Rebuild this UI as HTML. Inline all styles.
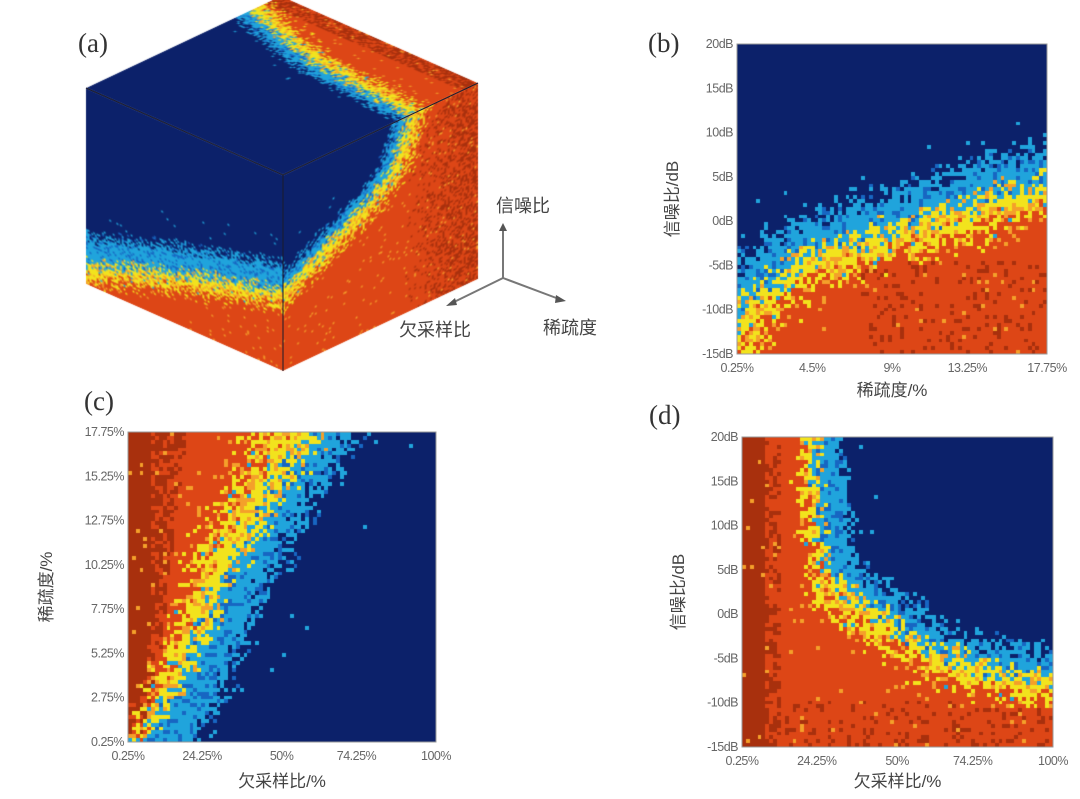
<!DOCTYPE html>
<html><head><meta charset="utf-8">
<style>
html,body{margin:0;padding:0;background:#fff;}
#wrap{position:relative;width:1080px;height:799px;overflow:hidden;}
canvas,svg{position:absolute;left:0;top:0;}
</style></head>
<body>
<div id="wrap">
<canvas id="cv" width="1080" height="799"></canvas>
<svg id="sv" width="1080" height="799" font-family="'Liberation Sans','Noto Sans CJK SC',sans-serif"></svg>
</div>
<script>
// ---- data ----
// (b) transition SNR (dB) vs sparsity (%)
const bSparsity = [0.25, 1.5, 3, 4.5, 6.75, 9, 11, 13.25, 15.5, 17.75];
const bThresholdDb = [-14, -9.5, -7, -5, -3.5, -2, -1, 0.5, 2, 3];
// (c) transition sparsity (%) vs undersampling (%)
const cUndersampling = [1, 4, 11, 18, 24, 30, 38, 46, 54, 64];
const cThresholdSparsity = [-1, 0.25, 2.75, 5.25, 7.75, 10.25, 12.75, 15.25, 17.75, 21];
// (d) transition SNR (dB) vs undersampling (%)
const dUndersampling = [20.5, 21.5, 23.5, 26, 32, 40, 50, 60, 75, 96, 105];
const dThresholdDb = [30, 20, 10, 5, 2, 0, -2.5, -5, -7, -8, -8.5];
// tick labels
const snrTicks = [20, 15, 10, 5, 0, -5, -10, -15];
const sparsityTicks = [0.25, 4.5, 9, 13.25, 17.75];
const sparsityTicksC = [0.25, 2.75, 5.25, 7.75, 10.25, 12.75, 15.25, 17.75];
const undersamplingTicks = [0.25, 24.25, 50, 74.25, 100];
// (a) cube face boundaries (normalised face coordinates)
const topFaceV = [0, 0.55, 0.94], topFaceU = [0.68, 0.73, 0.85];
const leftFaceT = [0, 0.5, 1], leftFaceS = [0.62, 0.76, 0.93];
const rightFaceU = [0, 0.47, 0.59, 0.68, 0.75], rightFaceS = [0.62, 0.35, 0.24, 0.0, -0.1];

const C = {db:[12,33,106], mb:[23,102,194], lb:[32,164,220], ye:[242,227,29], or:[244,160,42], re:[221,70,22], dr:[168,48,13]};
function hash(i,j,s){let h=(Math.imul(i+1,374761393)+Math.imul(j+7,668265263)+Math.imul(s+3,1442695041))|0;
  h=Math.imul(h^(h>>>13),1274126177);h^=h>>>16;h=Math.imul(h,0x85ebca6b);h^=h>>>13;return (h>>>0)/4294967296;}
function interp(xs,ys,x){
  const n=xs.length;
  if(x<=xs[0]){const k=(ys[1]-ys[0])/(xs[1]-xs[0]);return ys[0]+k*(x-xs[0]);}
  if(x>=xs[n-1]){const k=(ys[n-1]-ys[n-2])/(xs[n-1]-xs[n-2]);return ys[n-1]+k*(x-xs[n-1]);}
  for(let i=0;i<n-1;i++){if(x<=xs[i+1]){const t=(x-xs[i])/(xs[i+1]-xs[i]);return ys[i]+t*(ys[i+1]-ys[i]);}}
}
function prep(cfg){
  const pts=[];
  const x0=cfg.bx[0]-0.4,x1=cfg.bx[cfg.bx.length-1]+0.4;
  for(let k=0;k<=600;k++){const x=x0+(x1-x0)*k/600;pts.push([x,interp(cfg.bx,cfg.by,x)]);}
  const out=[pts[0]];
  for(let k=1;k<pts.length;k++){const a=pts[k-1],b=pts[k];const L=Math.hypot(b[0]-a[0],b[1]-a[1]);const m=Math.ceil(L/0.004);
    for(let q=1;q<=m;q++)out.push([a[0]+(b[0]-a[0])*q/m,a[1]+(b[1]-a[1])*q/m]);}
  cfg.pts=out;return cfg;
}
function colorAt(cfg,xn,yn,i,j){
  let m=1e9;for(const p of cfg.pts){const dx=p[0]-xn,dy=p[1]-yn;const d2=dx*dx+dy*dy;if(d2<m)m=d2;}
  let d=Math.sqrt(m);if(yn<interp(cfg.bx,cfg.by,xn))d=-d;
  if(cfg.redAbove) d=-d;
  const sc=cfg.scale?cfg.scale(xn,yn):1;
  const yh=cfg.yh*sc, jit=cfg.jit*(0.5+0.5*sc);
  const h=hash(i,j,cfg.seed), h2=hash(j,i,cfg.seed+11);
  const e=d+(h-0.5)*2*jit;
  if(e>cfg.bw){ if(h2<0.008&&e<cfg.bw*2) return C.lb; return C.db; }
  if(e>yh) return h2<0.22?C.mb:C.lb;
  if(e>-yh) return h2<0.25?C.or:(h2<0.32?C.lb:C.ye);
  if(e>-yh*2) return h2<0.3?C.ye:(h2<0.45?C.or:C.re);
  if(h2<0.025) return C.or;
  if(cfg.dark&&cfg.dark(xn,yn,h2)) return C.dr;
  return C.re;
}
function texture(cfg,n){
  prep(cfg);
  const oc=document.createElement('canvas');oc.width=n;oc.height=n;
  const octx=oc.getContext('2d');const img=octx.createImageData(n,n);
  for(let i=0;i<n;i++)for(let j=0;j<n;j++){
    const c=colorAt(cfg,(i+0.5)/n,(j+0.5)/n,i,j);
    const k=((n-1-j)*n+i)*4;img.data[k]=c[0];img.data[k+1]=c[1];img.data[k+2]=c[2];img.data[k+3]=255;
  }
  octx.putImageData(img,0,0);return oc;
}
const cv=document.getElementById('cv'),ctx=cv.getContext('2d');
function drawPlot(cfg,P,n){
  const t=texture(cfg,n);
  ctx.imageSmoothingEnabled=false;
  ctx.drawImage(t,P.x,P.y,P.w,P.h);
}
function norm(arr,lo,hi){return arr.map(v=>(v-lo)/(hi-lo));}
const PB={x:737,y:44,w:310,h:310}, PC={x:128,y:432,w:308,h:310}, PD={x:742,y:437,w:311,h:310};
drawPlot({bx:norm(bSparsity,0.25,17.75),by:norm(bThresholdDb,-15,20),redAbove:false,bw:0.15,yh:0.04,jit:0.05,seed:1,
  dark:(x,y,h)=>y<0.3&&x>0.4&&h<0.15},PB,80);
drawPlot({bx:norm(cUndersampling,0.25,100),by:norm(cThresholdSparsity,0.25,17.75),redAbove:true,bw:0.17,yh:0.06,jit:0.06,seed:2,
  scale:(x,y)=>0.35+0.75*y,
  dark:(x,y,h)=>x<0.07||(x<0.07+0.12*y&&h<0.6)},PC,80);
drawPlot({bx:norm(dUndersampling,0.25,100),by:norm(dThresholdDb,-15,20),redAbove:false,bw:0.11,yh:0.035,jit:0.045,seed:4,
  scale:(x,y)=>y>0.55?0.55:1,
  dark:(x,y,h)=>x<0.08||(x<0.12&&h<0.5)||(y<0.15&&h<0.2)},PD,80);

function drawFace(cfg,O,A,B,n){
  const t=texture(cfg,n);
  ctx.save();
  ctx.imageSmoothingEnabled=true;
  ctx.beginPath();ctx.moveTo(O[0],O[1]);ctx.lineTo(O[0]+A[0],O[1]+A[1]);ctx.lineTo(O[0]+A[0]+B[0],O[1]+A[1]+B[1]);ctx.lineTo(O[0]+B[0],O[1]+B[1]);ctx.closePath();ctx.clip();
  ctx.setTransform(A[0]/n,A[1]/n,-B[0]/n,-B[1]/n,O[0]+B[0],O[1]+B[1]);
  ctx.drawImage(t,0,0);
  ctx.restore();
}
const P0=[283,175],U=[195,-92],V=[-197,-87],Hd=[0,196];
drawFace({bx:topFaceV,by:topFaceU,redAbove:true,bw:0.09,yh:0.03,jit:0.03,seed:5,dark:(x,y,h)=>y>0.92&&h<0.6},P0,V,U,110);
drawFace({bx:leftFaceT,by:leftFaceS,redAbove:true,bw:0.16,yh:0.035,jit:0.04,seed:6,dark:null},P0,V,Hd,110);
drawFace({bx:rightFaceU,by:rightFaceS,redAbove:true,bw:0.1,yh:0.035,jit:0.03,seed:7,dark:(x,y,h)=>h<(x-0.6)*1.4},P0,U,Hd,110);

// ---- SVG annotations ----
const NS='http://www.w3.org/2000/svg',sv=document.getElementById('sv');
function el(tag,attrs,parent){const e=document.createElementNS(NS,tag);for(const k in attrs)e.setAttribute(k,attrs[k]);(parent||sv).appendChild(e);return e;}
function txt(s,attrs,name){const e=el('text',attrs);e.textContent=s;
  
  
  return e;}
const cubeEdges=el('g',{stroke:'#1a1a2a','stroke-width':1,fill:'none'});


el('polyline',{points:`86,88 283,175 478,83`},cubeEdges);
el('line',{x1:283,y1:175,x2:283,y2:371},cubeEdges);
const triad=el('g',{stroke:'#777','stroke-width':2,fill:'#555'});


el('line',{x1:503,y1:278,x2:503,y2:229},triad);
el('polygon',{points:'499,231 503,223 507,231',stroke:'none'},triad);
el('line',{x1:503,y1:278,x2:452,y2:303},triad);
el('polygon',{points:'455,298 446,306 457,305',stroke:'none'},triad);
el('line',{x1:503,y1:278,x2:559,y2:299},triad);
el('polygon',{points:'556,295 566,301 555,303',stroke:'none'},triad);
txt('信噪比',{x:496,y:212,'font-size':18,fill:'#444'},'triad-snr-label');
txt('欠采样比',{x:399,y:336,'font-size':18,fill:'#444'},'triad-undersampling-label');
txt('稀疏度',{x:543,y:334,'font-size':18,fill:'#444'},'triad-sparsity-label');
const ser="'Liberation Serif',serif";
txt('(a)',{x:78,y:52,'font-size':27,'font-family':ser,fill:'#333'},'panel-label-a');
txt('(b)',{x:648,y:52,'font-size':27,'font-family':ser,fill:'#333'},'panel-label-b');
txt('(c)',{x:84,y:410,'font-size':27,'font-family':ser,fill:'#333'},'panel-label-c');
txt('(d)',{x:649,y:424,'font-size':27,'font-family':ser,fill:'#333'},'panel-label-d');
function axes(P,xt,xlo,xhi,xfmt,yt,ylo,yhi,yfmt,xTitle,yTitle,xtY,ytX,tag){
  const f=el('rect',{x:P.x,y:P.y,width:P.w,height:P.h,fill:'none',stroke:'#999','stroke-width':1});
  
  
  xt.forEach(v=>{const x=P.x+(v-xlo)/(xhi-xlo)*P.w;
    txt(xfmt(v),{x:x,y:P.y+P.h+18,'font-size':12.5,fill:'#666','text-anchor':'middle','letter-spacing':'-0.5'},tag+'-x-tick');});
  yt.forEach(v=>{const y=P.y+P.h-(v-ylo)/(yhi-ylo)*P.h;
    txt(yfmt(v),{x:P.x-4,y:y+4,'font-size':12.5,fill:'#666','text-anchor':'end','letter-spacing':'-0.5'},tag+'-y-tick');});
  txt(xTitle,{x:P.x+P.w/2,y:xtY,'font-size':17,fill:'#444','text-anchor':'middle'},tag+'-x-axis-title');
  const cy=P.y+P.h/2;
  txt(yTitle,{x:ytX,y:cy,'font-size':17,fill:'#444','text-anchor':'middle',transform:`rotate(-90 ${ytX} ${cy})`},tag+'-y-axis-title');
}
axes(PB,sparsityTicks,0.25,17.75,v=>v+'%',snrTicks,-15,20,v=>v+'dB','稀疏度/%','信噪比/dB',396,678,'panel-b');
axes(PC,undersamplingTicks,0.25,100,v=>v+'%',sparsityTicksC,0.25,17.75,v=>v+'%','欠采样比/%','稀疏度/%',787,52,'panel-c');
axes(PD,undersamplingTicks,0.25,100,v=>v+'%',snrTicks,-15,20,v=>v+'dB','欠采样比/%','信噪比/dB',787,684,'panel-d');
</script>
</body></html>
